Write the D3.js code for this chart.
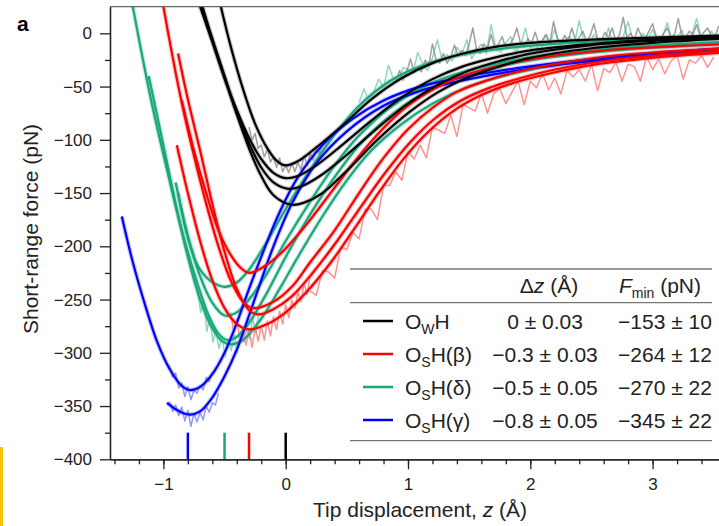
<!DOCTYPE html>
<html>
<head>
<meta charset="utf-8">
<script src="https://cdn.jsdelivr.net/npm/d3@7"></script>
<style>
  body { margin: 0; background: #fff; }
  svg { display: block; font-family: "Liberation Sans", Arial, sans-serif; }
</style>
</head>
<body>
<svg width="719" height="526"></svg>
<script>
// fitted curves, [z (Å), force (pN)]
var blackFits = [
  [[-0.53,25],[-0.45,-12],[-0.35,-52],[-0.25,-85],[-0.15,-108],[-0.07,-120],[0,-124],[0.1,-120],[0.22,-110],[0.45,-88],[0.7,-62],[0.95,-42],[1.2,-28],[1.45,-19],[1.7,-13],[2.0,-9],[2.5,-6],[3.0,-4],[3.6,-2]],
  [[-0.7,25],[-0.6,-8],[-0.5,-42],[-0.4,-72],[-0.3,-98],[-0.2,-118],[-0.1,-131],[0,-136],[0.1,-134],[0.25,-124],[0.45,-106],[0.7,-82],[0.95,-60],[1.2,-43],[1.45,-31],[1.7,-23],[2.0,-16],[2.5,-10],[3.0,-6],[3.6,-3]],
  [[-0.69,25],[-0.6,-7],[-0.5,-42],[-0.4,-75],[-0.3,-103],[-0.2,-126],[-0.1,-140],[0.02,-146],[0.12,-144],[0.28,-134],[0.5,-114],[0.75,-89],[1.0,-66],[1.25,-48],[1.5,-35],[1.75,-26],[2.0,-19],[2.5,-11],[3.0,-7],[3.6,-4]],
  [[-0.68,25],[-0.6,-5],[-0.5,-40],[-0.4,-76],[-0.3,-108],[-0.2,-134],[-0.1,-152],[0.05,-161],[0.15,-159],[0.3,-150],[0.5,-129],[0.75,-100],[1.0,-75],[1.25,-55],[1.5,-41],[1.75,-31],[2.0,-23],[2.5,-14],[3.0,-9],[3.6,-5]]
];
var redFits = [
  [[-0.85,-63],[-0.75,-110],[-0.65,-150],[-0.55,-185],[-0.45,-208],[-0.37,-220],[-0.3,-225],[-0.15,-217],[0,-202],[0.18,-178],[0.38,-148],[0.58,-118],[0.8,-89],[1.0,-68],[1.25,-50],[1.5,-38],[1.8,-29],[2.2,-21],[2.7,-15],[3.2,-12],[3.6,-10]],
  [[-1.0,25],[-0.92,-25],[-0.85,-65],[-0.75,-115],[-0.65,-160],[-0.55,-200],[-0.45,-232],[-0.35,-252],[-0.27,-258],[-0.1,-252],[0.05,-238],[0.2,-215],[0.4,-185],[0.6,-150],[0.8,-117],[1.0,-90],[1.2,-70],[1.4,-55],[1.65,-44],[1.9,-36],[2.2,-29],[2.6,-22],[3.0,-18],[3.6,-14]],
  [[-0.88,-19],[-0.8,-62],[-0.7,-110],[-0.6,-160],[-0.5,-205],[-0.4,-240],[-0.3,-260],[-0.22,-264],[-0.1,-259],[0.05,-247],[0.22,-225],[0.42,-195],[0.62,-162],[0.82,-130],[1.02,-102],[1.22,-80],[1.42,-64],[1.67,-51],[1.92,-42],[2.2,-34],[2.6,-26],[3.0,-21],[3.6,-16]],
  [[-0.89,-105],[-0.8,-150],[-0.7,-195],[-0.6,-232],[-0.5,-258],[-0.4,-273],[-0.3,-278],[-0.15,-273],[0,-262],[0.17,-243],[0.37,-215],[0.57,-182],[0.77,-148],[0.97,-117],[1.17,-92],[1.37,-73],[1.6,-58],[1.85,-47],[2.15,-38],[2.55,-29],[3.0,-23],[3.6,-18]]
];
var greenFits = [
  [[-0.88,-150],[-0.8,-192],[-0.72,-218],[-0.62,-232],[-0.5,-238],[-0.4,-234],[-0.3,-222],[-0.15,-195],[0,-165],[0.2,-128],[0.4,-95],[0.6,-68],[0.85,-45],[1.1,-31],[1.4,-21],[1.8,-14],[2.3,-9],[2.9,-6],[3.6,-4]],
  [[-1.25,25],[-1.1,-63],[-0.95,-138],[-0.85,-185],[-0.73,-232],[-0.63,-265],[-0.55,-282],[-0.48,-288],[-0.4,-285],[-0.3,-272],[-0.15,-243],[0,-210],[0.2,-170],[0.4,-135],[0.6,-105],[0.85,-78],[1.1,-58],[1.4,-42],[1.75,-31],[2.2,-22],[2.8,-15],[3.6,-10]],
  [[-1.12,-40],[-1.0,-105],[-0.9,-160],[-0.8,-210],[-0.7,-250],[-0.6,-277],[-0.52,-289],[-0.45,-292],[-0.35,-288],[-0.2,-268],[-0.05,-240],[0.1,-210],[0.3,-172],[0.5,-138],[0.7,-110],[0.95,-85],[1.2,-66],[1.5,-50],[1.85,-38],[2.3,-28],[2.9,-20],[3.6,-15]],
  [[-0.9,-140],[-0.8,-190],[-0.7,-228],[-0.6,-253],[-0.5,-265],[-0.4,-262],[-0.3,-250],[-0.15,-225],[0,-195],[0.2,-158],[0.4,-124],[0.6,-96],[0.85,-70],[1.1,-52],[1.4,-38],[1.75,-28],[2.2,-19],[2.8,-13],[3.6,-8]]
];
var blueFits = [
  [[-1.34,-172],[-1.25,-215],[-1.15,-255],[-1.05,-290],[-0.95,-315],[-0.85,-331],[-0.78,-335],[-0.7,-332],[-0.6,-320],[-0.5,-300],[-0.4,-272],[-0.3,-240],[-0.18,-204],[-0.05,-168],[0.1,-135],[0.3,-105],[0.55,-80],[0.8,-63],[1.1,-50],[1.5,-40],[2.0,-31],[2.6,-23],[3.2,-17],[3.6,-14]],
  [[-0.97,-347],[-0.9,-353],[-0.83,-357],[-0.78,-358],[-0.7,-355],[-0.6,-342],[-0.5,-322],[-0.4,-297],[-0.3,-265],[-0.2,-232],[-0.1,-200],[0.05,-160],[0.25,-122],[0.5,-92],[0.8,-68],[1.1,-54],[1.5,-43],[2.0,-33],[2.6,-25],[3.2,-19],[3.6,-16]]
];

// raw (noisy) traces: force values on an even z grid
var rawGreyTop = {z0: 0.9, dz: 0.03, f: [
  -46,-35,-44,-36,-24,-37,-32,-36,-25,-30, -10,-25,-28,-19,-28,-22,-11,-21,-16,-21,
  -10,5,-15,-19,-10,-14,-1,-14,-10,-3, -14,-11,-5,5,-9,-13,-5,-9,1,-10,
  -6,-1,-9,11,-4,-10,-2,-7,5,-7, -4,2,-8,-2,9,-5,-7,1,-4,5,
  -8,-1,15,-4,0,-6,5,-3,-5,2, 9,-3,-6,0,5,-4,-1,14,-3,-4, 2,-1,8,-3,1,5,-2,-4,7]};
var rawGreyMin = {z0: -0.3, dz: 0.025, f: [-88,-100,-94,-108,-105,-116,-109,-121,-116,-126,-117,-130,-124,-131,-122,-130,-121,-128,-115,-124,-113,-119,-106,-113,-103]};
var rawGreenTop = {z0: 0.6, dz: 0.04, f: [
  -65,-52,-64,-55,-43,-51,-30,-43,-45,-32, -34,-37,-18,-29,-35,-23,-6,-26,-20,-26,
  -13,-20,-6,-24,-16,-10,-19,8,-15,-18, -9,-3,-17,-12,5,-14,-9,-17,-2,-10,
  4,-13,-7,-3,-10,12,-8,-12,-1,-6, -10,5,-12,-6,-3,11,-7,-9,0,-6,
  4,-10,-4,10,-7,-4,3,-10,-2,14, -5,-6,2,-3]};
var rawGreenMin = {z0: -0.72, dz: 0.025, f: [-243,-262,-251,-280,-266,-290,-279,-296,-285,-304,-287,-298,-283,-300,-281,-290,-278,-287,-267,-281,-262]};
var rawRedLow = {z0: 0.2, dz: 0.05, f: [
  -242,-246,-223,-224,-230,-201,-203,-187,-193,-165, -165,-175,-143,-143,-130,-138,-111,-118,-105,-117,
  -88,-91,-94,-77,-97,-67,-70,-73,-56,-75, -57,-52,-66,-55,-45,-67,-45,-51,-38,-53,
  -42,-57,-35,-41,-34,-45,-29,-54,-33,-37, -27,-45,-29,-31,-45,-22,-34,-24,-38,-26,
  -21,-43,-25,-28,-21,-32,-22]};
var rawRedMin = {z0: -0.45, dz: 0.025, f: [-262,-281,-268,-288,-277,-293,-278,-295,-276,-289,-275,-288,-270,-284,-266,-278,-261,-273,-255,-267,-251,-258,-243,-252,-235,-245,-228]};
var rawBlueMin1 = {z0: -0.95, dz: 0.025, f: [-312,-323,-319,-333,-328,-341,-332,-344,-335,-338,-331,-335,-323,-327,-318]};
var rawBlueMin2 = {z0: -0.95, dz: 0.025, f: [-346,-355,-349,-359,-351,-364,-354,-369,-357,-365,-356,-363,-350,-356,-347,-349,-338]};

// legend table
var seriesColors = ["#000000", "#ff0000", "#19a67c", "#0000ff"];
var rawColors = {black: "#808080", red: "#ff6f6f", green: "#6fcaa9", blue: "#7272ff"};
var rowNames = [["O", "W", "H"], ["O", "S", "H(β)"], ["O", "S", "H(δ)"], ["O", "S", "H(γ)"]];
var dzText = ["0 ± 0.03", "−0.3 ± 0.03", "−0.5 ± 0.05", "−0.8 ± 0.05"];
var fminText = ["−153 ± 10", "−264 ± 12", "−270 ± 22", "−345 ± 22"];
var markerZ = [0, -0.3, -0.5, -0.8];

var yTicks = d3.range(-400, 1, 50);
var yMinor = d3.range(-375, 25, 50);
var xTicks = [-1, 0, 1, 2, 3];
var xMinor = d3.range(-1.4, 3.5, 0.2);

var svg = d3.select("svg");

var x = d3.scaleLinear().domain([-1.4366, 3.6]).range([110, 725.98]);
var y = d3.scaleLinear().domain([-400, 25]).range([459.3, 6.7]);

svg.append("clipPath").attr("id", "plotclip")
  .append("rect").attr("x", 110).attr("y", 6.7).attr("width", 609).attr("height", 452.6);

var plot = svg.append("g").attr("clip-path", "url(#plotclip)");

var fitLine = d3.line().x(function(d) { return x(d[0]); }).y(function(d) { return y(d[1]); })
  .curve(d3.curveCatmullRom.alpha(0.5));
var rawLine = d3.line().x(function(d) { return x(d[0]); }).y(function(d) { return y(d[1]); });

function rawPoints(r) {
  return r.f.map(function(v, i) { return [r.z0 + i * r.dz, v]; });
}

// light halos of the raw data under every fit
function halo(list, col) {
  plot.selectAll(null).data(list).enter().append("path")
    .attr("d", fitLine).attr("fill", "none")
    .attr("stroke", col).attr("stroke-width", 4.5).attr("stroke-opacity", 0.4);
}
halo(greenFits, rawColors.green);
halo(blueFits, rawColors.blue);
halo(redFits, rawColors.red);
halo(blackFits, rawColors.black);

var raws = [
  [rawGreenTop, rawColors.green], [rawGreyTop, rawColors.black], [rawGreyMin, rawColors.black],
  [rawGreenMin, rawColors.green], [rawRedLow, rawColors.red], [rawRedMin, rawColors.red],
  [rawBlueMin1, rawColors.blue], [rawBlueMin2, rawColors.blue]
];
raws.forEach(function(r) {
  plot.append("path").attr("d", rawLine(rawPoints(r[0])))
    .attr("fill", "none").attr("stroke", r[1]).attr("stroke-width", 1.5)
    .attr("stroke-opacity", 0.75).attr("stroke-linejoin", "round");
});

function fits(list, col) {
  plot.selectAll(null).data(list).enter().append("path")
    .attr("d", fitLine).attr("fill", "none")
    .attr("stroke", col).attr("stroke-width", 2.2);
}
fits(greenFits, seriesColors[2]);
fits(blueFits, seriesColors[3]);
fits(redFits, seriesColors[1]);
fits(blackFits, seriesColors[0]);

// position markers at the bottom
svg.selectAll(".mark").data(markerZ).enter().append("line")
  .attr("x1", function(d) { return x(d); }).attr("x2", function(d) { return x(d); })
  .attr("y1", y(-375)).attr("y2", y(-400))
  .attr("stroke", function(d, i) { return seriesColors[i]; }).attr("stroke-width", 2.5);

// top frame
svg.append("line").attr("x1", 110).attr("x2", 719).attr("y1", 6.7).attr("y2", 6.7)
  .attr("stroke", "#666").attr("stroke-width", 1.2);

// axes
function styleAxis(g) {
  g.select(".domain").attr("stroke", "#222").attr("stroke-width", 1.3);
  g.selectAll(".tick line").attr("stroke", "#222").attr("stroke-width", 1.3);
  g.selectAll(".tick text").attr("fill", "#222").style("font-size", "17px")
    .style("font-family", "'Liberation Sans', Arial, sans-serif");
}

svg.append("g").attr("transform", "translate(110,0)")
  .call(d3.axisLeft(y).tickValues(yMinor).tickSize(5).tickFormat("").tickSizeOuter(0))
  .call(styleAxis);
svg.append("g").attr("transform", "translate(110,0)")
  .call(d3.axisLeft(y).tickValues(yTicks).tickSize(10).tickPadding(8).tickSizeOuter(0).tickFormat(d3.format("d")))
  .call(styleAxis);

svg.append("g").attr("transform", "translate(0,459.3)")
  .call(d3.axisBottom(x).tickValues(xMinor).tickSize(5).tickFormat("").tickSizeOuter(0))
  .call(styleAxis);
svg.append("g").attr("transform", "translate(0,459.3)")
  .call(d3.axisBottom(x).tickValues(xTicks).tickSize(10).tickPadding(9).tickSizeOuter(0).tickFormat(d3.format("d")))
  .call(styleAxis);

// axis titles
svg.append("text").attr("transform", "translate(38,229) rotate(-90)")
  .attr("text-anchor", "middle").style("font-size", "21px").attr("fill", "#222")
  .text("Short-range force (pN)");

var xt = svg.append("text").attr("x", 420).attr("y", 517).attr("text-anchor", "middle")
  .style("font-size", "21px").attr("fill", "#222");
xt.append("tspan").text("Tip displacement, ");
xt.append("tspan").style("font-style", "italic").text("z");
xt.append("tspan").text(" (Å)");

svg.append("text").attr("x", 17).attr("y", 31).style("font-size", "21px")
  .style("font-weight", "bold").text("a");

// table
var tbl = svg.append("g").attr("fill", "#222").style("font-size", "21px");
[269, 302.7, 440.7].forEach(function(yy) {
  tbl.append("line").attr("x1", 350).attr("x2", 712).attr("y1", yy).attr("y2", yy)
    .attr("stroke", "#777").attr("stroke-width", 1.3);
});
var h1 = tbl.append("text").attr("x", 549).attr("y", 293).attr("text-anchor", "middle");
h1.append("tspan").text("Δ");
h1.append("tspan").style("font-style", "italic").text("z");
h1.append("tspan").text(" (Å)");
var h2 = tbl.append("text").attr("x", 660).attr("y", 293).attr("text-anchor", "middle");
h2.append("tspan").style("font-style", "italic").text("F");
h2.append("tspan").style("font-size", "14px").attr("dy", 5).text("min");
h2.append("tspan").attr("dy", -5).text(" (pN)");

var rowY = d3.scaleLinear().domain([0, 3]).range([321, 420]);
rowNames.forEach(function(nm, i) {
  var yy = rowY(i);
  tbl.append("line").attr("x1", 363).attr("x2", 393).attr("y1", yy).attr("y2", yy)
    .attr("stroke", seriesColors[i]).attr("stroke-width", 2.5);
  var t = tbl.append("text").attr("x", 405).attr("y", yy + 7.5);
  t.append("tspan").text(nm[0]);
  t.append("tspan").style("font-size", "14px").attr("dy", 5).text(nm[1]);
  t.append("tspan").attr("dy", -5).text(nm[2]);
  tbl.append("text").attr("x", 545).attr("y", yy + 7.5).attr("text-anchor", "middle").text(dzText[i]);
  tbl.append("text").attr("x", 665).attr("y", yy + 7.5).attr("text-anchor", "middle").text(fminText[i]);
});

// yellow edge mark
svg.append("rect").attr("x", 0).attr("y", 447).attr("width", 3).attr("height", 79).attr("fill", "#f7c600");
</script>
</body>
</html>
